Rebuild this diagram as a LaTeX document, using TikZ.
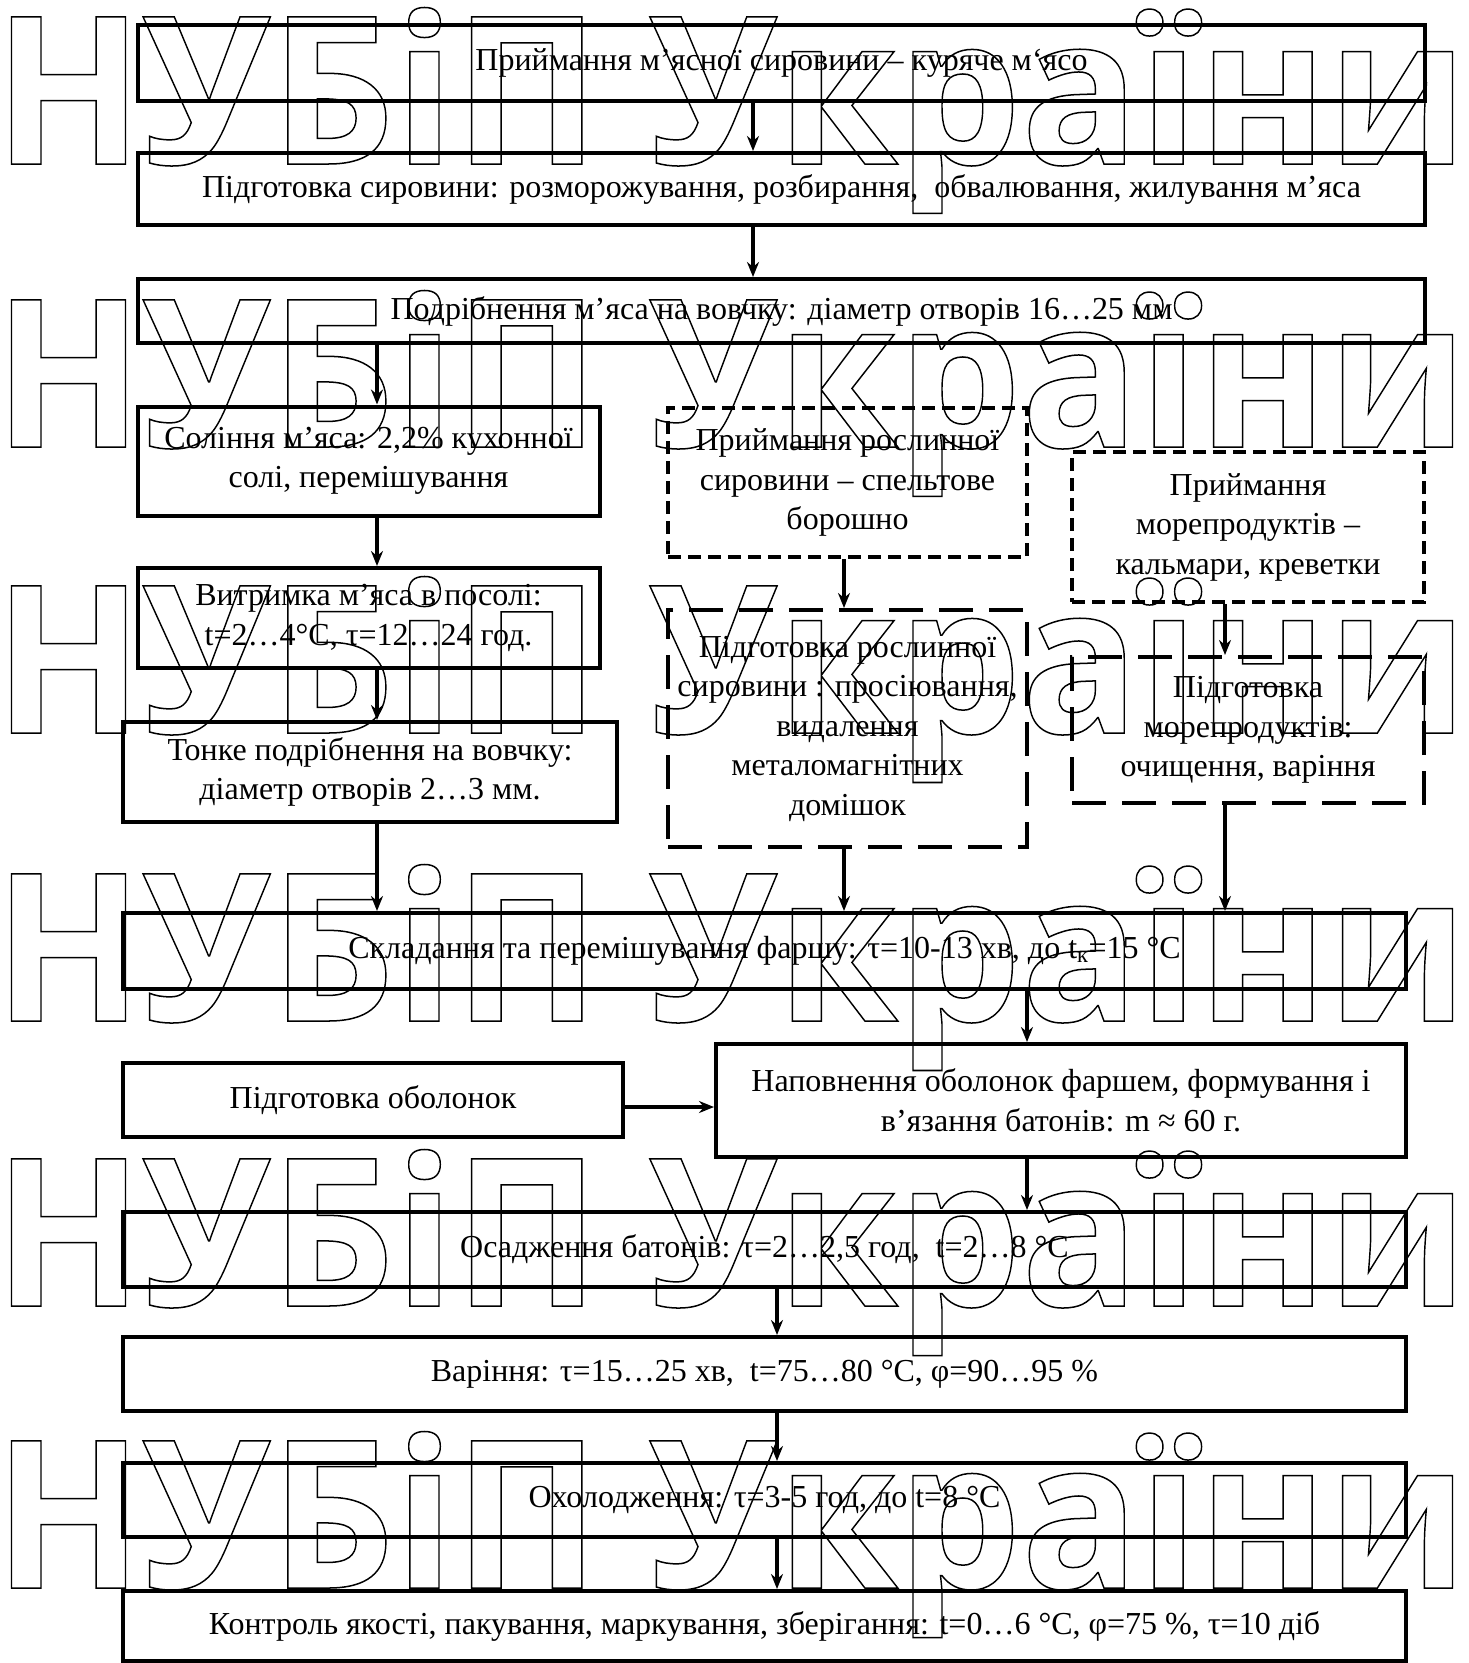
\documentclass[tikz,border=0pt]{standalone}
\usepackage{fontspec}
\setmainfont{Liberation Serif}
\newfontfamily\wmfont{Open Sans}
\usetikzlibrary{arrows.meta}
\newcommand\wmrow{\resizebox{1474pt}{\height}{\special{pdf:literal direct 1 Tr 1.5 w}{\wmfont\bfseries\fontsize{206}{220}\selectfont НУБіП України}\special{pdf:literal direct 0 Tr}}}
\begin{document}
\begin{tikzpicture}[x=1pt,y=-1pt,
  box/.style={draw, line width=4pt, inner sep=0pt, align=center, font=\fontsize{32}{39.5}\selectfont},
  dashA/.style={box, dash pattern=on 13pt off 7pt},
  dashB/.style={box, dash pattern=on 34pt off 16pt},
  arr/.style={line width=3.5pt, -{Stealth[length=15pt,width=12pt]}},
  wm/.style={anchor=base west, inner sep=0pt, outer sep=0pt}]
\useasboundingbox (0,0) rectangle (1468,1663);
\fill[white] (0,0) rectangle (1468,1663);
% watermark
\node[wm] (w1) at (-6,164) {\wmrow};
\node[wm] (w2) at (-6,447) {\wmrow};
\node[wm] (w3) at (-6,733) {\wmrow};
\node[wm] (w4) at (-6,1021) {\wmrow};
\node[wm] (w5) at (-6,1306) {\wmrow};
\node[wm] (w6) at (-6,1588) {\wmrow};
% boxes
\node[box, minimum width=1287pt, minimum height=76pt] (b1) at (781.5,63) {Приймання м’ясної сировини – куряче м‘ясо};
\node[box, minimum width=1287pt, minimum height=72pt] (b2) at (781.5,189) {Підготовка сировини: розморожування, розбирання,~ обвалювання, жилування м’яса};
\node[box, minimum width=1287pt, minimum height=64pt] (b3) at (781.5,311) {Подрібнення м’яса на вовчку: діаметр отворів 16…25 мм};
\node[box, minimum width=462pt, minimum height=109pt] (b4) at (368.5,461) {Соління м’яса: 2,2\% кухонної\\солі, перемішування};
\node[box, minimum width=462pt, minimum height=100pt] (b5) at (368.5,618) {Витримка м’яса в посолі:\\t=2…4°C, τ=12…24 год.};
\node[box, minimum width=494pt, minimum height=100pt] (b6) at (370,772) {Тонке подрібнення на вовчку:\\діаметр отворів 2…3 мм.};
\node[dashA, minimum width=359pt, minimum height=149pt] (pa) at (847.5,482.5) {Приймання рослинної\\сировини – спельтове\\борошно};
\node[dashB, minimum width=359pt, minimum height=237pt] (pb) at (847.5,728.5) {Підготовка рослинної\\сировини : просіювання,\\видалення\\металомагнітних\\домішок};
\node[dashA, minimum width=352pt, minimum height=150pt] (ma) at (1248,527) {Приймання\\морепродуктів –\\кальмари, креветки};
\node[dashB, minimum width=352pt, minimum height=146pt] (mb) at (1248,730) {Підготовка\\морепродуктів:\\очищення, варіння};
\node[box, minimum width=1283pt, minimum height=76pt] (b7) at (764.5,951) {Складання та перемішування фаршу: τ=10-13 хв, до t\textsubscript{к}=15 °С};
\node[box, minimum width=690pt, minimum height=113pt] (b8) at (1061,1100.5) {Наповнення оболонок фаршем, формування і\\в’язання батонів: m ≈ 60 г.};
\node[box, minimum width=500pt, minimum height=74pt] (b9) at (373,1100) {Підготовка оболонок};
\node[box, minimum width=1283pt, minimum height=75pt] (b10) at (764.5,1249.5) {Осадження батонів: τ=2…2,5 год,~ t=2…8 °С};
\node[box, minimum width=1283pt, minimum height=74pt] (b11) at (764.5,1374) {Варіння: τ=15…25 хв,~ t=75…80 °С, φ=90…95 \%};
\node[box, minimum width=1283pt, minimum height=74pt] (b12) at (764.5,1500) {Охолодження: τ=3-5 год, до t=8 °С};
\node[box, minimum width=1283pt, minimum height=70pt] (b13) at (764.5,1626) {Контроль якості, пакування, маркування, зберігання: t=0…6 °С, φ=75 \%, τ=10 діб};
% connector columns
\coordinate (xa) at (753,0);
\coordinate (xb) at (377,0);
\coordinate (xc) at (844,0);
\coordinate (xd) at (1225,0);
\coordinate (xe) at (1027,0);
\coordinate (xf) at (777,0);
\coordinate (ya) at (0,1107);
\draw[arr] (b1.south -| xa) -- (b2.north -| xa);
\draw[arr] (b2.south -| xa) -- (b3.north -| xa);
\draw[arr] (b3.south -| xb) -- (b4.north -| xb);
\draw[arr] (b4.south -| xb) -- (b5.north -| xb);
\draw[arr] (b5.south -| xb) -- (b6.north -| xb);
\draw[arr] (b6.south -| xb) -- (b7.north -| xb);
\draw[arr] (pa.south -| xc) -- (pb.north -| xc);
\draw[arr] (pb.south -| xc) -- (b7.north -| xc);
\draw[arr] (ma.south -| xd) -- (mb.north -| xd);
\draw[arr] (mb.south -| xd) -- (b7.north -| xd);
\draw[arr] (b7.south -| xe) -- (b8.north -| xe);
\draw[arr] (b9.east |- ya) -- (b8.west |- ya);
\draw[arr] (b8.south -| xe) -- (b10.north -| xe);
\draw[arr] (b10.south -| xf) -- (b11.north -| xf);
\draw[arr] (b11.south -| xf) -- (b12.north -| xf);
\draw[arr] (b12.south -| xf) -- (b13.north -| xf);
\end{tikzpicture}
\end{document}
